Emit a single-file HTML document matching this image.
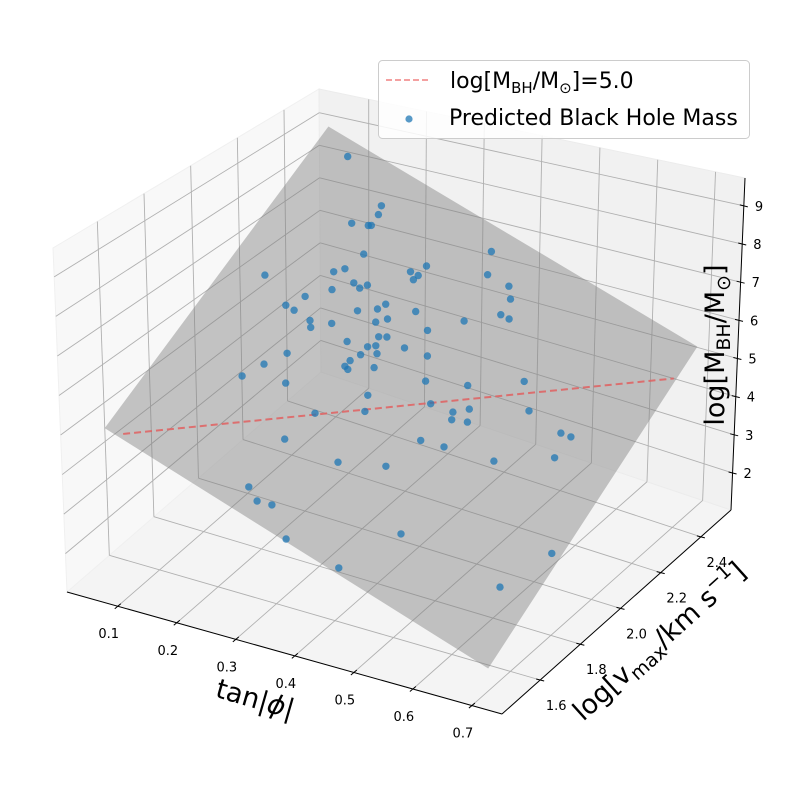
<!DOCTYPE html>
<html><head><meta charset="utf-8"><title>Predicted Black Hole Mass 3D chart</title>
<style>
html,body{margin:0;padding:0;background:#fff;}
svg{display:block;font-family:"DejaVu Sans","Liberation Sans",sans-serif;}
</style></head>
<body>
<svg id="chart" width="789" height="790" viewBox="0 0 789 790" xmlns="http://www.w3.org/2000/svg">
<g id="panes"></g>
<g id="grid"></g>
<g id="axes"></g>
<g id="surface"></g>
<g id="points"></g>
<g id="labels"></g>
<text x="255" y="708" font-size="27" text-anchor="middle" transform="rotate(16 255 700)">tan|<tspan font-style="italic">ϕ</tspan>|</text>
<text x="660" y="650" font-size="27" text-anchor="middle" transform="rotate(-42 660 642)">log[v<tspan font-size="19" dy="6">max</tspan><tspan dy="-6">/km s</tspan><tspan font-size="19" dy="-11">−1</tspan><tspan dy="11">]</tspan></text>
<text x="350" y="724" font-size="27" text-anchor="middle" transform="rotate(-90 715 345) translate(365 -370)">log[M<tspan font-size="19" dy="6">BH</tspan><tspan dy="-6">/M</tspan><tspan font-size="19" dy="6">⊙</tspan><tspan dy="-6">]</tspan></text>
<g>
<rect x="378.5" y="60.5" width="371" height="78" rx="4" fill="#fff" fill-opacity="0.85" stroke="#cccccc" stroke-width="1"/>
<g>
<line x1="386" y1="80" x2="431" y2="80" stroke="#f08080" stroke-width="1.6" stroke-dasharray="6,3"/>
<text x="450" y="88" font-size="22">log[M<tspan font-size="15" dy="5">BH</tspan><tspan dy="-5">/M</tspan><tspan font-size="15" dy="5">⊙</tspan><tspan dy="-5">]=5.0</tspan></text>
</g>
<g>
<circle cx="409" cy="119" r="3.6" fill="#1f77b4" fill-opacity="0.75"/>
<text x="449" y="125" font-size="22">Predicted Black Hole Mass</text>
</g>
</g>
</svg>
<script>
// axis limits
const XLIM = [0.014, 0.751];
const YLIM = [1.41, 2.55];
const ZLIM = [1.03, 9.73];
// tick values
const xTicks = [0.1, 0.2, 0.3, 0.4, 0.5, 0.6, 0.7];
const yTicks = [1.6, 1.8, 2.0, 2.2, 2.4];
const zTicks = [2, 3, 4, 5, 6, 7, 8, 9];
const xTickLabels = ["0.1","0.2","0.3","0.4","0.5","0.6","0.7"];
const yTickLabels = ["1.6","1.8","2.0","2.2","2.4"];
const zTickLabels = ["2","3","4","5","6","7","8","9"];
// scatter data: tan|phi|, log vmax, log M_BH
const tanPhi = [0.286,0.342,0.337,0.292,0.320,0.325,0.527,0.312,0.418,0.144,0.280,0.261,0.391,0.521,0.404,0.396,0.295,0.305,0.318,0.258,0.557,0.560,0.212,0.349,0.179,0.193,0.335,0.301,0.400,0.544,0.558,0.352,0.220,0.332,0.257,0.482,0.221,0.420,0.337,0.351,0.283,0.318,0.332,0.381,0.180,0.306,0.334,0.420,0.288,0.140,0.279,0.284,0.329,0.102,0.177,0.417,0.489,0.585,0.318,0.426,0.227,0.313,0.464,0.492,0.462,0.489,0.594,0.649,0.666,0.174,0.409,0.449,0.639,0.535,0.266,0.349,0.110,0.124,0.150,0.375,0.174,0.637,0.266,0.548];
const logVmax = [1.98,1.98,1.98,1.98,1.98,1.98,1.98,1.98,1.98,1.98,1.98,1.98,1.98,1.98,1.98,1.98,1.98,1.98,1.98,1.98,1.98,1.98,1.98,1.98,1.98,1.98,1.98,1.98,1.98,1.98,1.98,1.98,1.98,1.98,1.98,1.98,1.98,1.98,1.98,1.98,1.98,1.98,1.98,1.98,1.98,1.98,1.98,1.98,1.98,1.98,1.98,1.98,1.98,1.98,1.98,1.98,1.98,1.98,1.98,1.98,1.98,1.98,1.98,1.98,1.98,1.98,1.98,1.98,1.98,1.98,1.98,1.98,1.98,1.98,1.98,1.98,1.98,1.98,1.98,1.98,1.98,1.98,1.98,1.98];
const logMbh = [11.0,9.88,9.63,9.24,9.28,9.30,9.32,8.49,8.56,7.29,7.98,7.83,8.31,8.70,8.26,8.12,7.66,7.56,7.69,7.34,8.53,8.21,6.98,7.30,6.61,6.53,7.12,6.94,7.30,7.75,7.69,6.92,6.36,6.76,6.43,7.36,6.18,6.88,6.39,6.44,6.05,6.05,6.13,6.27,5.31,5.79,5.93,6.21,5.56,4.85,5.37,5.31,5.54,4.36,4.49,5.54,5.71,6.19,4.76,4.98,3.89,4.31,4.92,5.11,4.71,4.76,5.47,5.12,5.09,2.96,3.95,3.95,4.45,3.94,2.75,3.01,1.36,1.04,1.06,1.34,0.25,2.01,-0.08,0.75];
// fitted plane corners
const planeX = [-0.140, 0.254, 0.876, 0.529];
const planeY = [1.98, 1.98, 1.98, 1.98];
const planeZ = [1.79, 11.70, 8.12, -1.44];
// threshold line endpoints
const lineX = [-0.108, 0.838];
const lineY = [1.98, 1.98];
const lineZ = [1.78, 7.20];

const C = {
  "000":[67,592],"100":[502,714],"110":[731,510],"010":[321,372],
  "001":[53,248],"101":[505,352],"111":[745,178],"011":[319,89]
};
function lerp(a,b,t){return [a[0]+(b[0]-a[0])*t,a[1]+(b[1]-a[1])*t];}
function proj(x,y,z){
  const u=(x-XLIM[0])/(XLIM[1]-XLIM[0]);
  const v=(y-YLIM[0])/(YLIM[1]-YLIM[0]);
  const w=(z-ZLIM[0])/(ZLIM[1]-ZLIM[0]);
  const b0=lerp(lerp(C["000"],C["100"],u),lerp(C["010"],C["110"],u),v);
  const b1=lerp(lerp(C["001"],C["101"],u),lerp(C["011"],C["111"],u),v);
  return lerp(b0,b1,w);
}
const NS="http://www.w3.org/2000/svg";
function mk(tag,attrs,parent){const e=document.createElementNS(NS,tag);for(const k in attrs)e.setAttribute(k,attrs[k]);parent.appendChild(e);return e;}
function pts(arr){return arr.map(p=>p[0].toFixed(1)+","+p[1].toFixed(1)).join(" ");}
const [x0,x1]=XLIM,[y0,y1]=YLIM,[z0,z1]=ZLIM;
const panes=document.getElementById("panes");
let e;
e=mk("polygon",{points:pts([proj(x0,y0,z0),proj(x1,y0,z0),proj(x1,y1,z0),proj(x0,y1,z0)]),fill:"#f4f4f4",stroke:"#f0f0f0"},panes);


e=mk("polygon",{points:pts([proj(x0,y0,z0),proj(x0,y1,z0),proj(x0,y1,z1),proj(x0,y0,z1)]),fill:"#f8f8f8",stroke:"#f0f0f0"},panes);


e=mk("polygon",{points:pts([proj(x0,y1,z0),proj(x1,y1,z0),proj(x1,y1,z1),proj(x0,y1,z1)]),fill:"#f1f1f1",stroke:"#ececec"},panes);



const grid=document.getElementById("grid");
function gl(a,b,name){
  const l=mk("line",{x1:a[0],y1:a[1],x2:b[0],y2:b[1],stroke:"#b0b0b0","stroke-width":"0.9"},grid);
  
  
}
xTicks.forEach(t=>{gl(proj(t,y0,z0),proj(t,y1,z0),"x-grid-floor");gl(proj(t,y1,z0),proj(t,y1,z1),"x-grid-back");});
yTicks.forEach(t=>{gl(proj(x0,t,z0),proj(x1,t,z0),"y-grid-floor");gl(proj(x0,t,z0),proj(x0,t,z1),"y-grid-left");});
zTicks.forEach(t=>{gl(proj(x0,y0,t),proj(x0,y1,t),"z-grid-left");gl(proj(x0,y1,t),proj(x1,y1,t),"z-grid-back");});

const axes=document.getElementById("axes");
function al(a,b,name){
  const l=mk("line",{x1:a[0],y1:a[1],x2:b[0],y2:b[1],stroke:"#000","stroke-width":"1"},axes);
  
  
}
al(proj(x0,y0,z0),proj(x1,y0,z0),"x-axis-line");
al(proj(x1,y0,z0),proj(x1,y1,z0),"y-axis-line");
al(proj(x1,y1,z0),proj(x1,y1,z1),"z-axis-line");
const labels=document.getElementById("labels");
function tl(x,y,txt,anchor,name){
  const t=mk("text",{x:x,y:y,"font-size":"13","text-anchor":anchor},labels);
  t.textContent=txt;
  
  
}
xTicks.forEach((t,i)=>{const p=proj(t,y0,z0);al([p[0]-3,p[1]+2.5],[p[0]+3,p[1]-2.5],"x-tick");tl(p[0]-9,p[1]+32,xTickLabels[i],"middle","x-tick-label");});
yTicks.forEach((t,i)=>{const p=proj(x1,t,z0);al([p[0]-4,p[1]-1],[p[0]+4,p[1]+1],"y-tick");tl(p[0]+16,p[1]+30,yTickLabels[i],"middle","y-tick-label");});
zTicks.forEach((t,i)=>{const p=proj(x1,y1,t);al([p[0]-4,p[1]-1],[p[0]+4,p[1]+1],"z-tick");tl(p[0]+11,p[1]+5,zTickLabels[i],"start","z-tick-label");});

const surf=document.getElementById("surface");
const plane=mk("polygon",{points:pts(planeX.map((x,i)=>proj(x,planeY[i],planeZ[i]))),fill:"#808080","fill-opacity":"0.45"},surf);


const la=proj(lineX[0],lineY[0],lineZ[0]), lb=proj(lineX[1],lineY[1],lineZ[1]);
const dl=mk("line",{x1:la[0],y1:la[1],x2:lb[0],y2:lb[1],stroke:"#e06060","stroke-opacity":"0.85","stroke-width":"2","stroke-dasharray":"7,4"},surf);



const pg=document.getElementById("points");
tanPhi.forEach((x,i)=>{
  const p=proj(x,logVmax[i],logMbh[i]);
  const c=mk("circle",{cx:p[0].toFixed(1),cy:p[1].toFixed(1),r:"3.7",fill:"#1f77b4","fill-opacity":"0.75"},pg);
  
  
});
</script>
</body></html>
